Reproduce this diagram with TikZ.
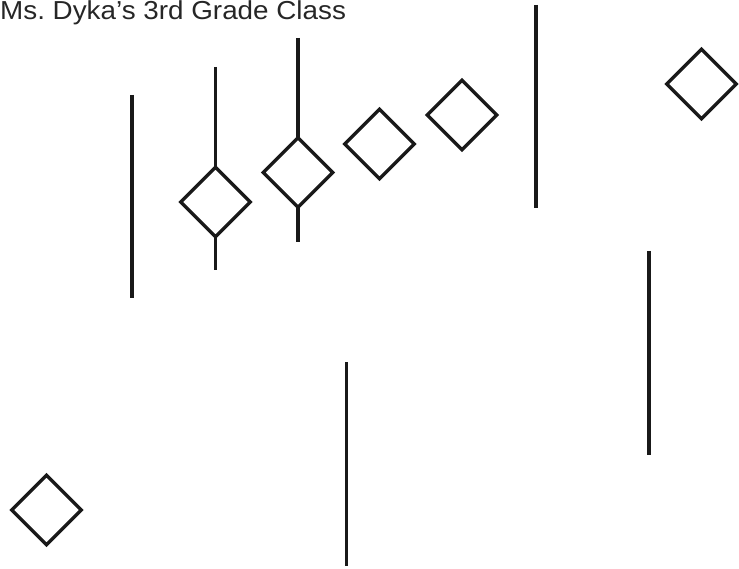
\documentclass[tikz,border=0pt]{standalone}
\usepackage{fontspec}
\setmainfont{Liberation Sans}
\newfontfamily\titlefont[FakeStretch=1.07]{Liberation Sans}
\usetikzlibrary{shapes.geometric}
\frenchspacing
\begin{document}
\begin{tikzpicture}[x=1pt,y=-1pt,
  dmark/.style={draw=black!90,line width=3.4pt,shape=diamond,inner sep=0pt,outer sep=0pt,
     minimum width=69.5pt,minimum height=69.5pt,line join=miter},
  bar/.style={draw=black!90,line width=3.4pt,line cap=butt}]
\useasboundingbox (0,0) rectangle (739,569);
\node[anchor=base west,inner sep=0pt,font=\titlefont\fontsize{26}{30}\selectfont,text=black!85] (title) at (0,19.5) {Ms. Dyka’s 3rd Grade Class};
% diamonds
\node[dmark] (d1) at (215.5,202) {};
\node[dmark] (d2) at (298,172.5) {};
\node[dmark] (d3) at (379.5,144) {};
\node[dmark] (d4) at (462,115) {};
\node[dmark] (d5) at (701.5,84) {};
\node[dmark] (d6) at (46.5,510) {};
% free line ends
\coordinate (a1) at (132,95);  \coordinate (a2) at (132,298);
\coordinate (b1) at (215.5,67); \coordinate (b2) at (215.5,270);
\coordinate (c1) at (298,38);  \coordinate (c2) at (298,242);
\coordinate (e1) at (536,5);   \coordinate (e2) at (536,208);
\coordinate (f1) at (649,251); \coordinate (f2) at (649,455);
\coordinate (g1) at (346.5,362); \coordinate (g2) at (346.5,566);
\draw[bar] (a1) -- (a2);
\draw[bar] (b1) -- (d1.north);
\draw[bar] (d1.south) -- (b2);
\draw[bar] (c1) -- (d2.north);
\draw[bar] (d2.south) -- (c2);
\draw[bar] (e1) -- (e2);
\draw[bar] (f1) -- (f2);
\draw[bar] (g1) -- (g2);
\end{tikzpicture}
\end{document}
